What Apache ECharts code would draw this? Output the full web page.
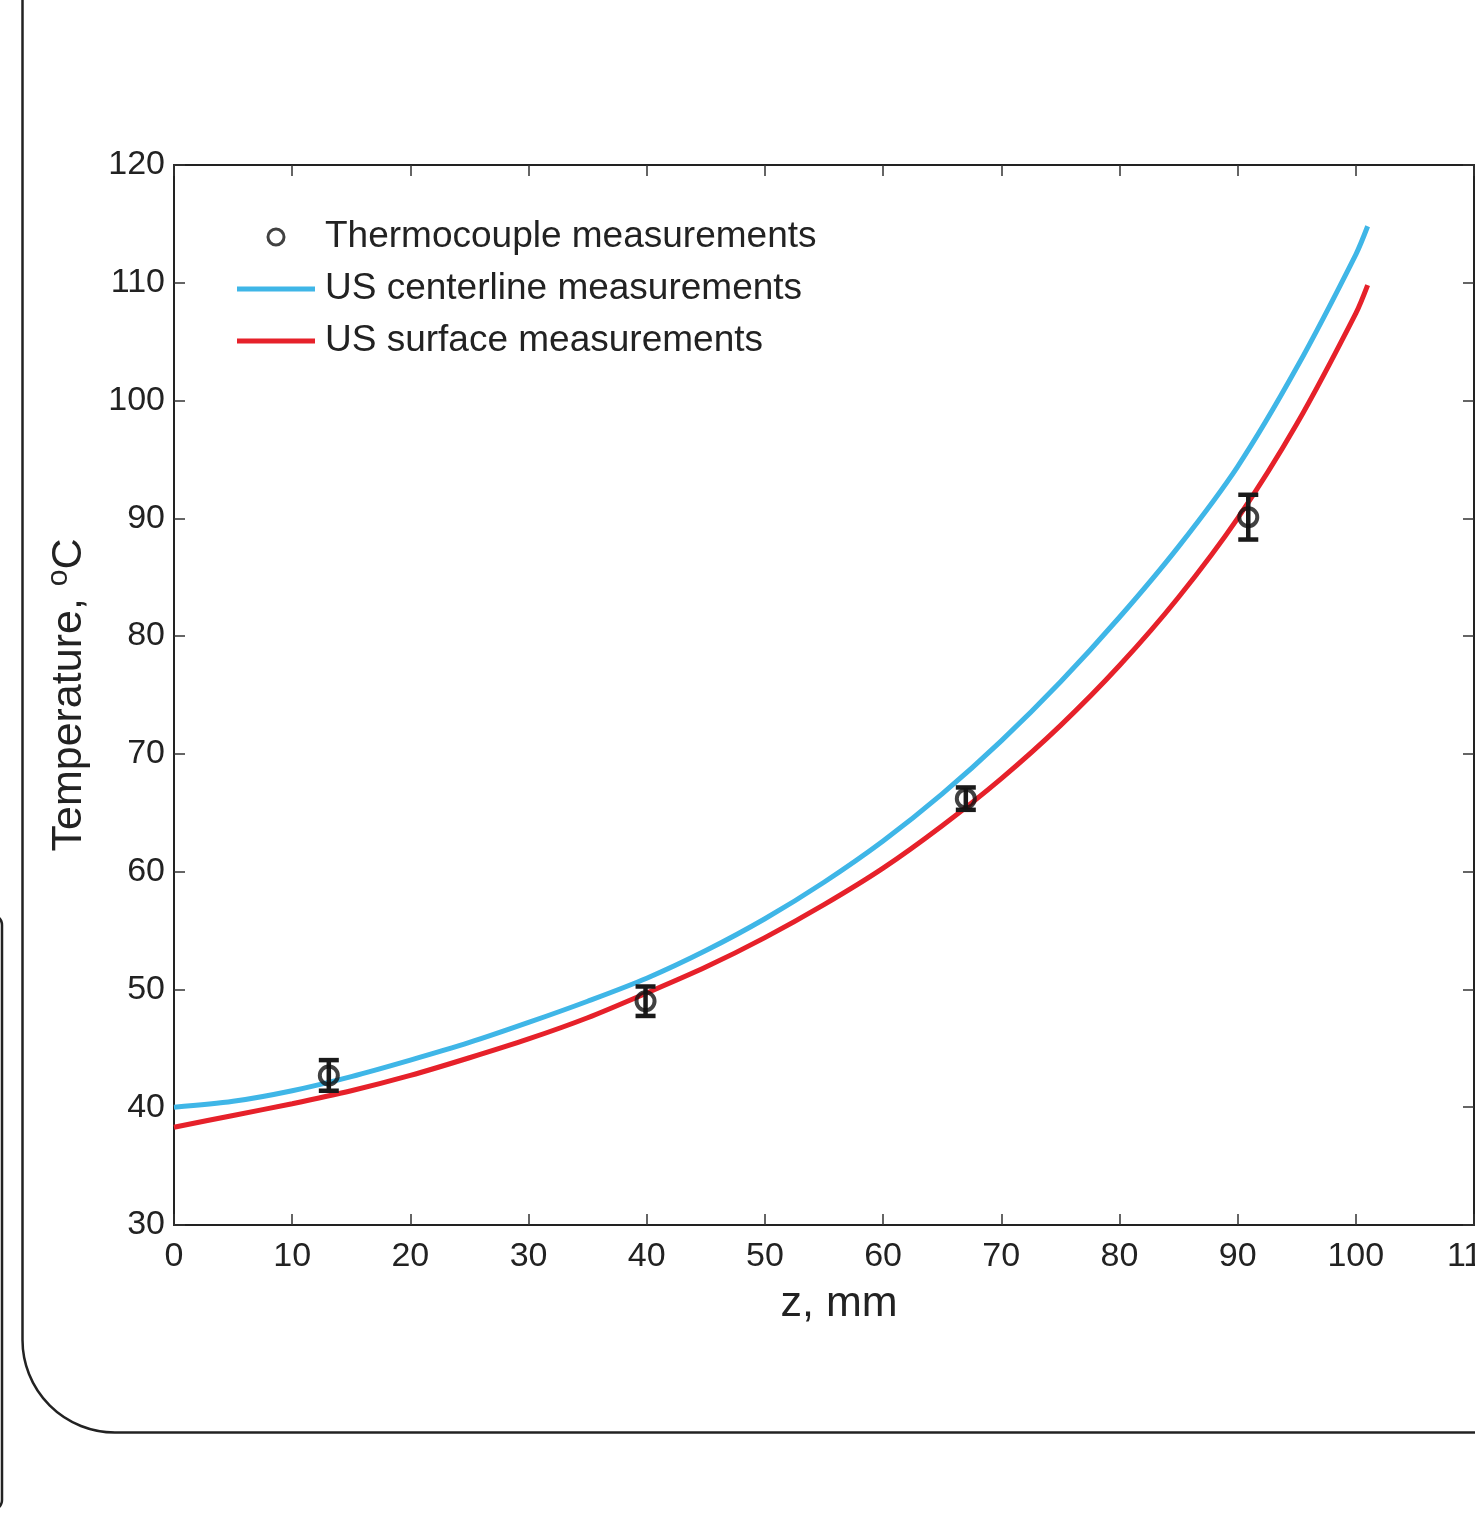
<!DOCTYPE html>
<html>
<head>
<meta charset="utf-8">
<script src="https://cdn.jsdelivr.net/npm/echarts@6/dist/echarts.min.js"></script>
<style>
html,body{margin:0;padding:0;background:#fff;}
#chart{width:1475px;height:1514px;}
</style>
</head>
<body>
<div id="chart"></div>
<script>
// ---- data ----
const zTicks = [0,10,20,30,40,50,60,70,80,90,100,110];
const tempTicks = [30,40,50,60,70,80,90,100,110,120];

const curveZ = [0,5,10,15,20,25,30,35,40,45,50,55,60,65,70,75,80,85,90,95,100,101];
const centerline = [40.0,40.5,41.4,42.6,44.0,45.5,47.2,49.0,50.95,53.3,56.0,59.1,62.6,66.6,71.1,76.1,81.6,87.6,94.4,102.8,112.4,114.8];
const surface = [38.3,39.3,40.3,41.4,42.7,44.2,45.8,47.6,49.7,51.9,54.4,57.2,60.3,63.9,67.9,72.4,77.5,83.3,90.0,98.0,107.4,109.8];

const tcZ = [13.1,39.9,67.0,90.9];
const tcT = [42.7,49.0,66.2,90.1];
const tcErr = [1.3,1.25,0.95,1.9];

const names = ['Thermocouple measurements','US centerline measurements','US surface measurements'];

// ---- build series data ----
const blueData = curveZ.map((z,i)=>[z,centerline[i]]);
const redData = curveZ.map((z,i)=>[z,surface[i]]);
const tcData = tcZ.map((z,i)=>[z,tcT[i]]);
const errData = tcZ.map((z,i)=>[z,tcT[i]-tcErr[i],tcT[i]+tcErr[i]]);

const FONT = 'Liberation Sans, Arial, Helvetica, sans-serif';
const BLUE = '#3FB6E7', RED = '#E6212A';
const chart = echarts.init(document.getElementById('chart'), null, {renderer:'canvas'});

const axisCommon = {
  axisLine:{show:true,onZero:false,lineStyle:{color:'#222',width:2}},
  axisTick:{show:true,inside:true,length:11,lineStyle:{color:'#333',width:1.5}},
  splitLine:{show:false}
};

chart.setOption({
  animation:false,
  backgroundColor:'#fff',
  grid:{left:174,top:165,width:1300,height:1060,containLabel:false,outerBoundsMode:'none'},
  xAxis:[
    Object.assign({type:'value',min:0,max:110,interval:10,position:'bottom',
      name:'{s|}{t|z, mm}',nameLocation:'middle',nameGap:58,
      nameTextStyle:{rich:{s:{width:30},t:{fontFamily:FONT,fontSize:43,color:'#222'}}},
      axisLabel:{fontFamily:FONT,fontSize:34,color:'#222',margin:15,
        formatter:v=>zTicks.includes(v)?String(v):''}},axisCommon),
    Object.assign({type:'value',min:0,max:110,interval:10,position:'top',
      axisLabel:{show:false}},axisCommon)
  ],
  yAxis:[
    Object.assign({type:'value',min:30,max:120,interval:10,position:'left',
      name:'{t|Temperature, }{sup|o}{t|C}',nameLocation:'middle',nameGap:80,nameRotate:90,
      nameTextStyle:{rich:{
        t:{fontFamily:FONT,fontSize:43,color:'#222'},
        sup:{fontFamily:FONT,fontSize:30,color:'#222',verticalAlign:'top',padding:[0,0,20,0]}}},
      axisLabel:{fontFamily:FONT,fontSize:34,color:'#222',margin:9,
        formatter:v=>tempTicks.includes(v)?String(v):''}},axisCommon),
    Object.assign({type:'value',min:30,max:120,interval:10,position:'right',
      axisLabel:{show:false}},axisCommon)
  ],
  legend:{
    left:237,top:217,orient:'vertical',padding:0,itemWidth:78,itemHeight:16,itemGap:12,
    symbolKeepAspect:true,
    data:[
      {name:names[0],icon:'circle',itemStyle:{color:'#fff',borderColor:'#111',borderWidth:3}},
      {name:names[1],icon:'path://M0 0H78V5H0Z',itemStyle:{color:BLUE}},
      {name:names[2],icon:'path://M0 0H78V5H0Z',itemStyle:{color:RED}}
    ],
    textStyle:{fontFamily:FONT,fontSize:37,color:'#222',lineHeight:40,padding:[0,0,0,5]}
  },
  series:[
    {name:names[1],type:'line',data:blueData,smooth:0.3,symbol:'none',
      lineStyle:{color:BLUE,width:5},itemStyle:{color:BLUE},z:2},
    {name:names[2],type:'line',data:redData,smooth:0.3,symbol:'none',
      lineStyle:{color:RED,width:5},itemStyle:{color:RED},z:3},
    {name:'err',type:'custom',data:errData,z:4,
      renderItem:function(params,api){
        const x=api.value(0),lo=api.value(1),hi=api.value(2);
        const p1=api.coord([x,lo]),p2=api.coord([x,hi]);
        const cap=10;
        const st={stroke:'#1a1a1a',lineWidth:4.5};
        return {type:'group',children:[
          {type:'line',shape:{x1:p1[0],y1:p1[1],x2:p2[0],y2:p2[1]},style:st},
          {type:'line',shape:{x1:p1[0]-cap,y1:p1[1],x2:p1[0]+cap,y2:p1[1]},style:st},
          {type:'line',shape:{x1:p2[0]-cap,y1:p2[1],x2:p2[0]+cap,y2:p2[1]},style:st}
        ]};
      }},
    {name:names[0],type:'scatter',data:tcData,symbol:'circle',symbolSize:18,z:5,
      itemStyle:{color:'rgba(0,0,0,0)',borderColor:'#111',borderWidth:4}}
  ],
  graphic:[
    {type:'line',z:-1,shape:{x1:22.5,y1:0,x2:22.5,y2:1340},style:{stroke:'#222',lineWidth:2.5}},
    {type:'arc',z:-1,shape:{cx:115,cy:1340,r:92.5,startAngle:Math.PI/2,endAngle:Math.PI,clockwise:true},
      style:{fill:null,stroke:'#222',lineWidth:2.5}},
    {type:'line',z:-1,shape:{x1:115,y1:1432.5,x2:1480,y2:1432.5},style:{stroke:'#222',lineWidth:2.5}},
    {type:'rect',z:-1,shape:{x:-60,y:915,width:62,height:595,r:10},
      style:{fill:null,stroke:'#222',lineWidth:2.5}}
  ]
});
</script>
</body>
</html>
